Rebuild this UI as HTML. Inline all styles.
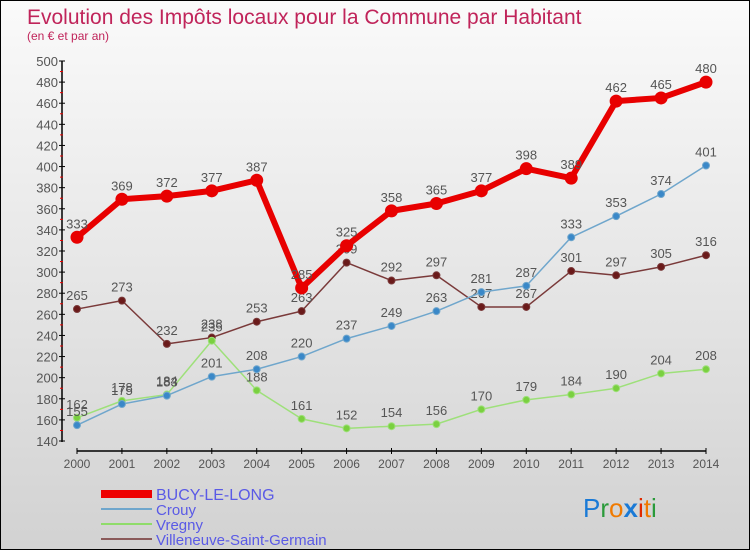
<!DOCTYPE html>
<html><head><meta charset="utf-8"><style>
body{margin:0}
#c{width:750px;height:550px;position:relative;overflow:hidden;border:1px solid #000;box-sizing:border-box;background:linear-gradient(#fafafa,#d2d2d2);font-family:"Liberation Sans","DejaVu Sans",sans-serif}
</style></head><body>
<div id="c">
<svg id="s" width="750" height="550" style="position:absolute;left:0;top:0">
<text x="26" y="23" font-size="21" fill="#c0245a">Evolution des Impôts locaux pour la Commune par Habitant</text>
<text x="26" y="39" font-size="12" fill="#c0245a">(en € et par an)</text>
<g id="g"></g>
<g>
<rect x="100" y="489" width="51" height="8" fill="#e00"/>
<text x="155" y="499" font-size="16" fill="#5a5ae6">BUCY-LE-LONG</text>
<rect x="100" y="507" width="51" height="2" fill="#6fa6cc"/>
<text x="155" y="514" font-size="15" fill="#5a5ae6">Crouy</text>
<rect x="100" y="522" width="51" height="2" fill="#8fdc6a"/>
<text x="155" y="529" font-size="15" fill="#5a5ae6">Vregny</text>
<rect x="100" y="537" width="51" height="2" fill="#8a5a5a"/>
<text x="155" y="544" font-size="15" fill="#5a5ae6">Villeneuve-Saint-Germain</text>
</g>
<g font-size="26" font-family="Liberation Sans,sans-serif">
<text x="582" y="516"><tspan fill="#1a7ad6">P</tspan><tspan fill="#2a9a3a">r</tspan><tspan fill="#f07a00">o</tspan><tspan fill="#1a7ad6" font-weight="bold">x</tspan><tspan fill="#e02a00">i</tspan><tspan fill="#f07a00">t</tspan><tspan fill="#2a9a3a">i</tspan></text>
</g>
</svg>
</div>
<script>
const years=["2000","2001","2002","2003","2004","2005","2006","2007","2008","2009","2010","2011","2012","2013","2014"];
const bucy=[333,369,372,377,387,285,325,358,365,377,398,389,462,465,480];
const crouy=[155,175,183,201,208,220,237,249,263,281,287,333,353,374,401];
const vregny=[162,178,184,235,188,161,152,154,156,170,179,184,190,204,208];
const villeneuve=[265,273,232,238,253,263,309,292,297,267,267,301,297,305,316];
const yTicks=[140,160,180,200,220,240,260,280,300,320,340,360,380,400,420,440,460,480,500];
const NS="http://www.w3.org/2000/svg";
const g=document.getElementById('g');
const X=i=>76+i*(705-76)/(years.length-1);
const Y=v=>440-(v-140)*(380/360);
function el(t,a){const e=document.createElementNS(NS,t);for(const k in a)e.setAttribute(k,a[k]);g.appendChild(e);return e;}
let ax=el('line',{x1:61,y1:60,x2:61,y2:441,stroke:'#000','stroke-width':1.5});

let bx=el('line',{x1:76,y1:450,x2:705,y2:450,stroke:'#000','stroke-width':1.5});

yTicks.forEach(v=>{
 el('line',{x1:58,x2:64,y1:Y(v),y2:Y(v),stroke:'#000'});
 if(v<500)el('line',{x1:59,x2:62,y1:Y(v+10),y2:Y(v+10),stroke:'#e00'});
 const t=el('text',{x:57,y:Y(v)+5,'font-size':13,fill:'#555','text-anchor':'end'});t.textContent=v;
 
});
years.forEach((y,i)=>{
 el('line',{x1:X(i),x2:X(i),y1:447,y2:453,stroke:'#000'});
 const t=el('text',{x:X(i),y:467,'font-size':12,fill:'#555','text-anchor':'middle'});t.textContent=y;
 
});
function series(d,name,col,w,r,dot){
 const p=el('polyline',{points:d.map((v,i)=>X(i)+','+Y(v)).join(' '),fill:'none',stroke:col,'stroke-width':w,'stroke-linejoin':'round'});
 
 d.forEach((v,i)=>{
  const c=el('circle',{cx:X(i),cy:Y(v),r:r,fill:dot,stroke:col,'stroke-width':1});
  
  const t=el('text',{x:X(i),y:Y(v)-9,'font-size':13,fill:'#555','text-anchor':'middle'});t.textContent=v;
  
 });
}
series(villeneuve,'villeneuve','#7a3a3a',1.5,3.5,'#6a1a1a');
series(vregny,'vregny','#9ee07a',1.5,3.5,'#7ad040');
series(crouy,'crouy','#6fa6cc',1.5,3.5,'#3a88c8');
series(bucy,'bucy','#e80000',6,6,'#e80000');
</script>
</body></html>
